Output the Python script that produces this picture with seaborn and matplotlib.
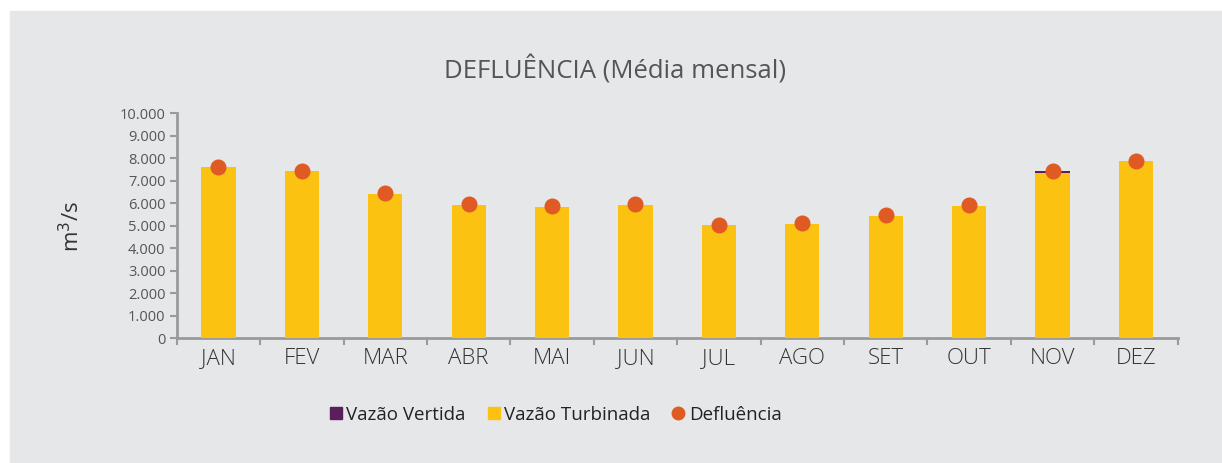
import numpy as np
import pandas as pd
import matplotlib
matplotlib.use("Agg")
import matplotlib.pyplot as plt
import seaborn as sns
from matplotlib.lines import Line2D
from matplotlib.patches import Rectangle
from matplotlib.ticker import FuncFormatter, FixedLocator

# ── Data ─────────────────────────────────────────────────────────────────────
meses      = ["JAN", "FEV", "MAR", "ABR", "MAI", "JUN",
              "JUL", "AGO", "SET", "OUT", "NOV", "DEZ"]
turbinada  = [7610, 7440, 6410, 5920, 5840, 5920, 5020, 5100, 5430, 5880, 7360, 7860]
vertida    = [0, 0, 0, 0, 0, 0, 20, 0, 0, 0, 80, 0]
defluencia = [7620, 7450, 6440, 5950, 5870, 5950, 5030, 5110, 5460, 5910, 7440, 7880]

BG     = "#e6e7e8"
YELLOW = "#fcc212"
PURPLE = "#5c1f5e"
ORANGE = "#e05a24"
AXIS   = "#9a9a9a"

df = pd.DataFrame({"mes": meses, "turbinada": turbinada, "vertida": vertida,
                   "defluencia": defluencia})
df["total"] = df["turbinada"] + df["vertida"]

sns.set_theme(style="white")
plt.rcParams["font.family"] = ["Open Sans", "DejaVu Sans"]

fig = plt.figure(figsize=(12.22, 4.63), dpi=100)
fig.patch.set_facecolor("white")
fig.patches.append(Rectangle((10 / 1222, 0), 1, 1 - 11 / 463,
                             transform=fig.transFigure, color=BG, zorder=-10))

ax = fig.add_axes([176.7 / 1222, 1 - 338.3 / 463, 1001 / 1222, 225 / 463])
ax.set_facecolor(BG)

# stacked bars: total (purple) underneath, turbinada (yellow) on top
sns.barplot(data=df, x="mes", y="total", color=PURPLE, width=0.41,
            saturation=1, linewidth=0, ax=ax, zorder=2)
sns.barplot(data=df, x="mes", y="turbinada", color=YELLOW, width=0.41,
            saturation=1, linewidth=0, ax=ax, zorder=3)
sns.pointplot(data=df, x="mes", y="defluencia", color=ORANGE, linestyle="none",
              markers="o", markersize=9.5, ax=ax)
for coll in ax.collections:
    coll.set_zorder(4)
for ln in ax.lines:
    ln.set_zorder(4)

ax.set_xlim(-0.5, 11.5)
ax.set_ylim(0, 10000)
ax.set_yticks(np.arange(0, 10001, 1000))
ax.yaxis.set_major_formatter(FuncFormatter(lambda v, p: f"{v:,.0f}".replace(",", ".")))
ax.set_xlabel("")
ax.set_ylabel("")

ax.xaxis.set_minor_locator(FixedLocator(np.arange(-0.5, 12, 1)))
ax.tick_params(axis="x", which="major", length=0, pad=7, labelsize=16,
               labelcolor="#333333")
ax.tick_params(axis="x", which="minor", length=5, width=1.5, color=AXIS,
               direction="out", bottom=True)
ax.tick_params(axis="y", length=5, width=1.5, color=AXIS, direction="out",
               left=True, labelsize=10.5, labelcolor="#555555", pad=3)
for lbl in ax.get_xticklabels():
    lbl.set_fontweight("light")

sns.despine(ax=ax)
for side in ["left", "bottom"]:
    ax.spines[side].set_color(AXIS)
    ax.spines[side].set_linewidth(2)

fig.text(0.503, 1 - 70 / 463, "DEFLUÊNCIA (Média mensal)", ha="center",
         va="center", fontsize=18.5, color="#555555")
fig.text(72 / 1222, 1 - 226 / 463, "m$^3$/s", rotation=90, ha="center",
         va="center", fontsize=16, color="#333333")

handles = [
    Line2D([], [], marker="s", linestyle="none", color=PURPLE, markersize=8),
    Line2D([], [], marker="s", linestyle="none", color=YELLOW, markersize=8),
    Line2D([], [], marker="o", linestyle="none", color=ORANGE, markersize=9),
]
fig.legend(handles, ["Vazão Vertida", "Vazão Turbinada", "Defluência"],
           loc="center", bbox_to_anchor=(0.454, 1 - 415 / 463), ncol=3,
           frameon=False, fontsize=13.5, handletextpad=0.15, columnspacing=1.1,
           handlelength=0.8, labelcolor="#222222")

fig.savefig("out.png", dpi=100, facecolor="white")
